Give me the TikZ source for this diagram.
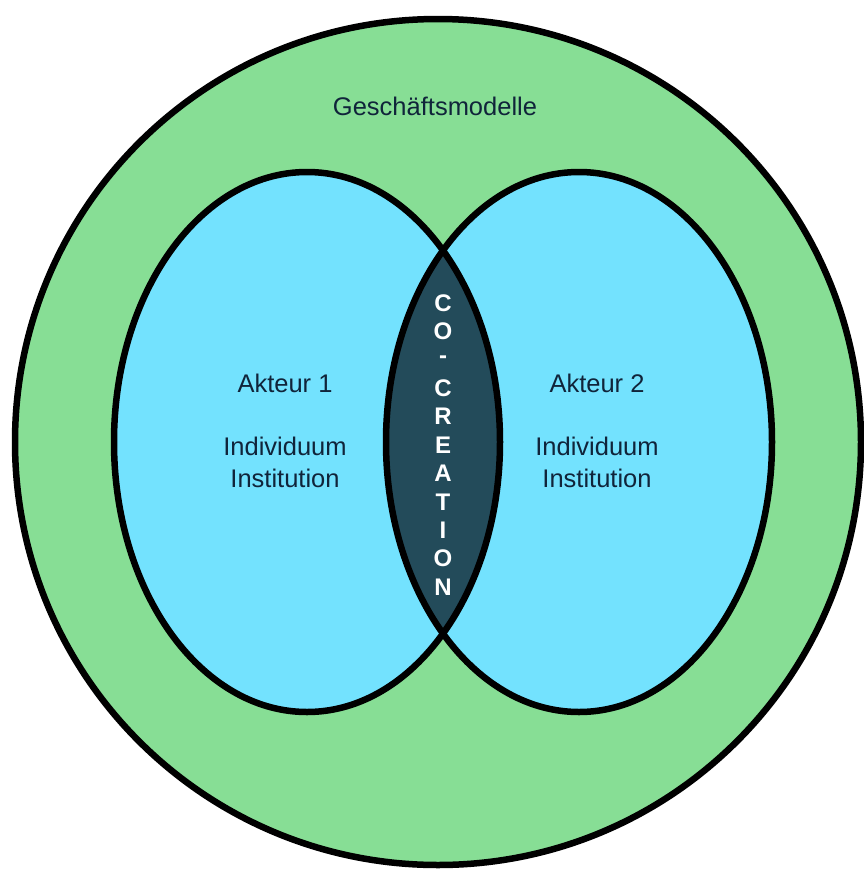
\documentclass[tikz,border=0pt]{standalone}
\usepackage{fontspec}
\setmainfont{Liberation Sans}
\definecolor{ringgreen}{HTML}{87DE95}
\definecolor{actorblue}{HTML}{73E2FE}
\definecolor{lensteal}{HTML}{234B5A}
\definecolor{labeltext}{HTML}{10243A}

\begin{document}
\begin{tikzpicture}[
        x=1pt, y=-1pt,
        outline/.style={
            draw=black,
            line width=6.5pt
        },
        label/.style={
            text=labeltext,
            align=center,
            inner sep=0pt,
            font=\fontsize{25.5}{31.5}\selectfont
        },
        letter/.style={
            text=white,
            inner sep=0pt,
            font=\fontsize{24}{24}\selectfont\bfseries
        }
    ]
        \useasboundingbox (0,0) rectangle (864,871);

        % business models ring
        \fill[ringgreen] (438,442) circle (423pt);
        \draw[outline] (438,442) circle (423pt);

        % the two actors
        \fill[actorblue] (307,442) ellipse (193pt and 270pt);
        \fill[actorblue] (579,442) ellipse (193pt and 270pt);
        \begin{scope}
            \clip (307,442) ellipse (193pt and 270pt);
            \fill[lensteal] (579,442) ellipse (193pt and 270pt);
        \end{scope}
        \draw[outline] (307,442) ellipse (193pt and 270pt);
        \draw[outline] (579,442) ellipse (193pt and 270pt);

        \node[label] (ring) at (435,106) {Geschäftsmodelle};
        \node[label] (actor1) at (285,431) {Akteur 1\\[\baselineskip]Individuum\\Institution};
        \node[label] (actor2) at (597,431) {Akteur 2\\[\baselineskip]Individuum\\Institution};

        \foreach \ch [count=\i from 0] in {C,O,-,C,R,E,A,T,I,O,N}
            \node[letter] (co\i) at (443,303+28.4*\i) {\ch};
    \end{tikzpicture}
\end{document}
